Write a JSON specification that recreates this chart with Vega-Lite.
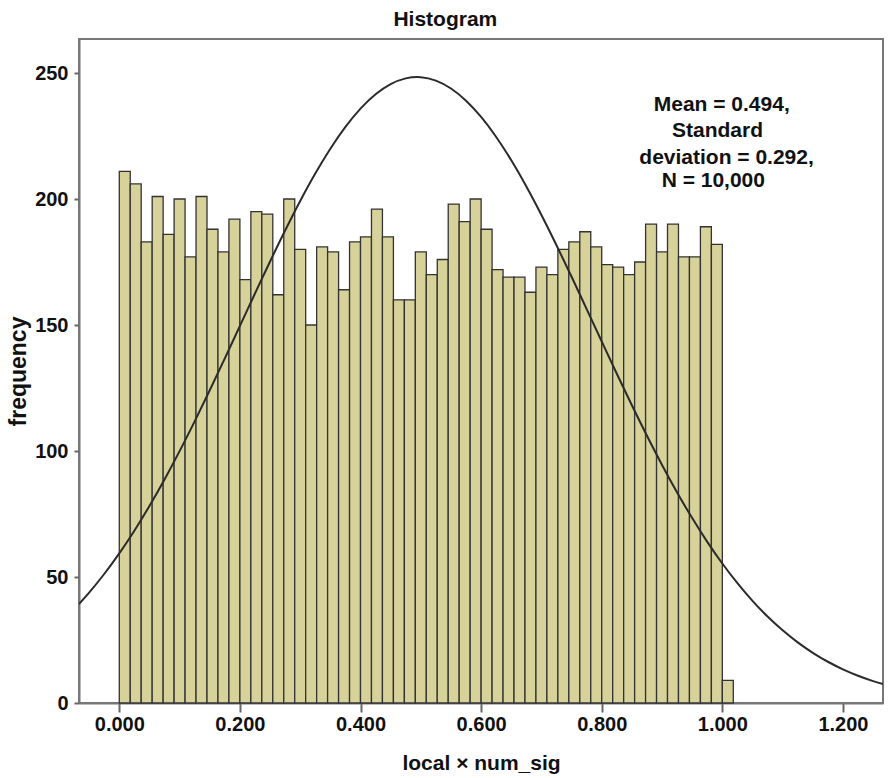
{
  "$schema": "https://vega.github.io/schema/vega-lite/v6.json",
  "width": 804,
  "height": 664,
  "autosize": {"type": "none"},
  "padding": {"left": 79, "top": 39, "right": 7, "bottom": 75},
  "background": "white",
  "title": {"text": "Histogram", "font": "Liberation Sans", "fontSize": 21, "fontWeight": "bold", "color": "#111", "anchor": "middle", "frame": "bounds", "offset": 9},
  "config": {
    "view": {"stroke": "#777", "strokeWidth": 2},
    "axis": {"labelFont": "Liberation Sans", "labelFontSize": 20, "labelFontWeight": "bold", "labelColor": "#111", "titleFont": "Liberation Sans", "titleFontWeight": "bold", "titleColor": "#111", "domainColor": "#777", "domainWidth": 2, "tickColor": "#666", "tickWidth": 2, "grid": false}
  },
  "datasets": {
    "bins": [
      {"bin_start": 0.0, "bin_end": 0.01818, "count": 211},
      {"bin_start": 0.01818, "bin_end": 0.03636, "count": 206},
      {"bin_start": 0.03636, "bin_end": 0.05455, "count": 183},
      {"bin_start": 0.05455, "bin_end": 0.07273, "count": 201},
      {"bin_start": 0.07273, "bin_end": 0.09091, "count": 186},
      {"bin_start": 0.09091, "bin_end": 0.10909, "count": 200},
      {"bin_start": 0.10909, "bin_end": 0.12727, "count": 177},
      {"bin_start": 0.12727, "bin_end": 0.14545, "count": 201},
      {"bin_start": 0.14545, "bin_end": 0.16364, "count": 188},
      {"bin_start": 0.16364, "bin_end": 0.18182, "count": 179},
      {"bin_start": 0.18182, "bin_end": 0.2, "count": 192},
      {"bin_start": 0.2, "bin_end": 0.21818, "count": 168},
      {"bin_start": 0.21818, "bin_end": 0.23636, "count": 195},
      {"bin_start": 0.23636, "bin_end": 0.25455, "count": 194},
      {"bin_start": 0.25455, "bin_end": 0.27273, "count": 162},
      {"bin_start": 0.27273, "bin_end": 0.29091, "count": 200},
      {"bin_start": 0.29091, "bin_end": 0.30909, "count": 180},
      {"bin_start": 0.30909, "bin_end": 0.32727, "count": 150},
      {"bin_start": 0.32727, "bin_end": 0.34545, "count": 181},
      {"bin_start": 0.34545, "bin_end": 0.36364, "count": 179},
      {"bin_start": 0.36364, "bin_end": 0.38182, "count": 164},
      {"bin_start": 0.38182, "bin_end": 0.4, "count": 183},
      {"bin_start": 0.4, "bin_end": 0.41818, "count": 185},
      {"bin_start": 0.41818, "bin_end": 0.43636, "count": 196},
      {"bin_start": 0.43636, "bin_end": 0.45455, "count": 185},
      {"bin_start": 0.45455, "bin_end": 0.47273, "count": 160},
      {"bin_start": 0.47273, "bin_end": 0.49091, "count": 160},
      {"bin_start": 0.49091, "bin_end": 0.50909, "count": 179},
      {"bin_start": 0.50909, "bin_end": 0.52727, "count": 170},
      {"bin_start": 0.52727, "bin_end": 0.54545, "count": 176},
      {"bin_start": 0.54545, "bin_end": 0.56364, "count": 198},
      {"bin_start": 0.56364, "bin_end": 0.58182, "count": 191},
      {"bin_start": 0.58182, "bin_end": 0.6, "count": 200},
      {"bin_start": 0.6, "bin_end": 0.61818, "count": 188},
      {"bin_start": 0.61818, "bin_end": 0.63636, "count": 172},
      {"bin_start": 0.63636, "bin_end": 0.65455, "count": 169},
      {"bin_start": 0.65455, "bin_end": 0.67273, "count": 169},
      {"bin_start": 0.67273, "bin_end": 0.69091, "count": 163},
      {"bin_start": 0.69091, "bin_end": 0.70909, "count": 173},
      {"bin_start": 0.70909, "bin_end": 0.72727, "count": 170},
      {"bin_start": 0.72727, "bin_end": 0.74545, "count": 180},
      {"bin_start": 0.74545, "bin_end": 0.76364, "count": 183},
      {"bin_start": 0.76364, "bin_end": 0.78182, "count": 187},
      {"bin_start": 0.78182, "bin_end": 0.8, "count": 181},
      {"bin_start": 0.8, "bin_end": 0.81818, "count": 174},
      {"bin_start": 0.81818, "bin_end": 0.83636, "count": 173},
      {"bin_start": 0.83636, "bin_end": 0.85455, "count": 170},
      {"bin_start": 0.85455, "bin_end": 0.87273, "count": 175},
      {"bin_start": 0.87273, "bin_end": 0.89091, "count": 190},
      {"bin_start": 0.89091, "bin_end": 0.90909, "count": 179},
      {"bin_start": 0.90909, "bin_end": 0.92727, "count": 190},
      {"bin_start": 0.92727, "bin_end": 0.94545, "count": 177},
      {"bin_start": 0.94545, "bin_end": 0.96364, "count": 177},
      {"bin_start": 0.96364, "bin_end": 0.98182, "count": 189},
      {"bin_start": 0.98182, "bin_end": 1.0, "count": 182},
      {"bin_start": 1.0, "bin_end": 1.01818, "count": 9}
    ],
    "curve": [
      {"x": -0.0668, "y": 39.28},
      {"x": -0.05, "y": 43.80},
      {"x": -0.025, "y": 51.19},
      {"x": 0.0, "y": 59.38},
      {"x": 0.025, "y": 68.38},
      {"x": 0.05, "y": 78.18},
      {"x": 0.075, "y": 88.72},
      {"x": 0.1, "y": 99.95},
      {"x": 0.125, "y": 111.78},
      {"x": 0.15, "y": 124.10},
      {"x": 0.175, "y": 136.77},
      {"x": 0.2, "y": 149.63},
      {"x": 0.225, "y": 162.50},
      {"x": 0.25, "y": 175.20},
      {"x": 0.275, "y": 187.50},
      {"x": 0.3, "y": 199.21},
      {"x": 0.325, "y": 210.09},
      {"x": 0.35, "y": 219.96},
      {"x": 0.375, "y": 228.61},
      {"x": 0.4, "y": 235.86},
      {"x": 0.425, "y": 241.56},
      {"x": 0.45, "y": 245.60},
      {"x": 0.475, "y": 247.87},
      {"x": 0.494, "y": 248.40},
      {"x": 0.5, "y": 248.35},
      {"x": 0.525, "y": 247.00},
      {"x": 0.55, "y": 243.87},
      {"x": 0.575, "y": 239.03},
      {"x": 0.6, "y": 232.56},
      {"x": 0.625, "y": 224.62},
      {"x": 0.65, "y": 215.36},
      {"x": 0.675, "y": 204.98},
      {"x": 0.7, "y": 193.68},
      {"x": 0.725, "y": 181.66},
      {"x": 0.75, "y": 169.14},
      {"x": 0.775, "y": 156.33},
      {"x": 0.8, "y": 143.44},
      {"x": 0.825, "y": 130.65},
      {"x": 0.85, "y": 118.14},
      {"x": 0.875, "y": 106.04},
      {"x": 0.9, "y": 94.48},
      {"x": 0.925, "y": 83.57},
      {"x": 0.95, "y": 73.38},
      {"x": 0.975, "y": 63.96},
      {"x": 1.0, "y": 55.35},
      {"x": 1.025, "y": 47.54},
      {"x": 1.05, "y": 40.54},
      {"x": 1.075, "y": 34.31},
      {"x": 1.1, "y": 28.83},
      {"x": 1.125, "y": 24.05},
      {"x": 1.15, "y": 19.92},
      {"x": 1.175, "y": 16.37},
      {"x": 1.2, "y": 13.36},
      {"x": 1.225, "y": 10.82},
      {"x": 1.25, "y": 8.70},
      {"x": 1.2664, "y": 7.51}
    ],
    "notes": [
      {"x": 0.999, "y": 237.3, "label": "Mean = 0.494,"},
      {"x": 0.992, "y": 227.0, "label": "Standard"},
      {"x": 1.007, "y": 216.3, "label": "deviation = 0.292,"},
      {"x": 0.985, "y": 207.0, "label": "N = 10,000"}
    ]
  },
  "layer": [
    {
      "data": {"name": "bins"},
      "mark": {"type": "rect", "fill": "#d7d29a", "stroke": "#333333", "strokeWidth": 1.3},
      "encoding": {
        "x": {"field": "bin_start", "type": "quantitative",
              "scale": {"domain": [-0.0668, 1.2664], "nice": false, "zero": false},
              "axis": {"values": [0, 0.2, 0.4, 0.6, 0.8, 1.0, 1.2], "format": ".3f", "tickSize": 9, "labelPadding": 2, "title": "local × num_sig", "titleFontSize": 21, "titlePadding": 18}},
        "x2": {"field": "bin_end"},
        "y": {"field": "count", "type": "quantitative",
              "scale": {"domain": [0, 263.5], "nice": false},
              "axis": {"values": [0, 50, 100, 150, 200, 250], "tickSize": 5, "labelPadding": 6, "title": "frequency", "titleFontSize": 23, "titlePadding": 4}},
        "y2": {"datum": 0}
      }
    },
    {
      "data": {"name": "curve"},
      "mark": {"type": "line", "stroke": "#2b2b2b", "strokeWidth": 2, "clip": true, "interpolate": "monotone"},
      "encoding": {
        "x": {"field": "x", "type": "quantitative"},
        "y": {"field": "y", "type": "quantitative"}
      }
    },
    {
      "data": {"name": "notes"},
      "mark": {"type": "text", "font": "Liberation Sans", "fontSize": 21, "fontWeight": "bold", "color": "#111", "align": "center", "baseline": "middle"},
      "encoding": {
        "x": {"field": "x", "type": "quantitative"},
        "y": {"field": "y", "type": "quantitative"},
        "text": {"field": "label", "type": "nominal"}
      }
    }
  ]
}
